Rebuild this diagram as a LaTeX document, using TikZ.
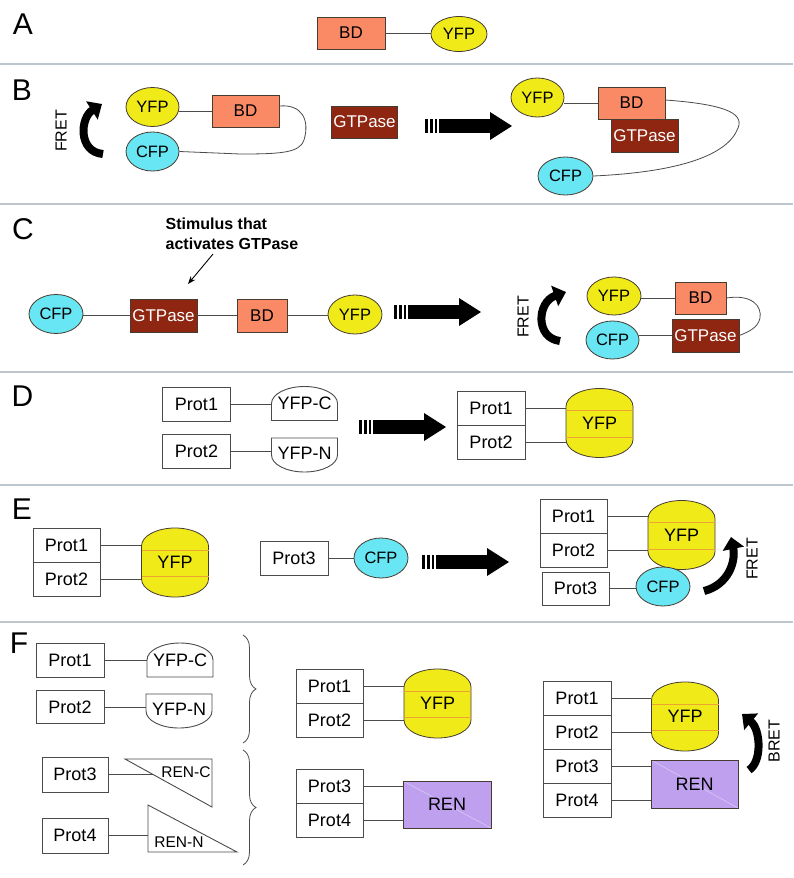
\documentclass[tikz,border=0pt]{standalone}
\usepackage{fontspec}
\setmainfont{Liberation Sans}
\usetikzlibrary{shapes.geometric,arrows.meta,decorations.pathreplacing}
\definecolor{sepcol}{RGB}{188,198,204}
\definecolor{bdcol}{RGB}{250,138,102}
\definecolor{gtpcol}{RGB}{142,38,18}
\definecolor{yfpcol}{RGB}{240,234,24}
\definecolor{cfpcol}{RGB}{104,230,244}
\definecolor{rencol}{RGB}{190,160,238}
\definecolor{rendiagcol}{RGB}{214,200,246}
\definecolor{linecol}{RGB}{75,75,75}
\definecolor{edgecol}{RGB}{70,60,50}
\definecolor{redlinecol}{RGB}{236,165,50}
\tikzset{
 sepline/.style={draw=sepcol,line width=1.4pt},
 panel/.style={font=\fontsize{30}{30}\selectfont, inner sep=0pt},
 link/.style={draw=linecol,line width=0.8pt},
 protbox/.style={rectangle, draw=linecol, fill=white, line width=1pt, minimum width=68pt, minimum height=34pt, inner sep=0pt, font=\fontsize{18}{18}\selectfont},
 bdbox/.style={rectangle, draw=edgecol, fill=bdcol, line width=0.8pt, minimum width=67pt, minimum height=32pt, inner sep=0pt, font=\fontsize{17}{17}\selectfont},
 gtpbox/.style={rectangle, draw=edgecol, fill=gtpcol, text=white, line width=0.8pt, minimum width=67pt, minimum height=33pt, inner sep=0pt, font=\fontsize{17}{17}\selectfont},
 fp/.style={ellipse, draw=edgecol, line width=0.8pt, minimum width=54pt, minimum height=39pt, inner sep=0pt, font=\fontsize{16.5}{16.5}\selectfont},
 yfp/.style={fp, fill=yfpcol},
 cfp/.style={fp, fill=cfpcol},
 shapetext/.style={rectangle, inner sep=0pt, minimum width=66pt, minimum height=34pt, font=\fontsize{18}{18}\selectfont},
 barreltext/.style={rectangle, inner sep=0pt, minimum width=67pt, minimum height=69pt, font=\fontsize{18}{18}\selectfont},
 tritext/.style={inner sep=0pt, font=\fontsize{15.5}{15.5}\selectfont},
 renbox/.style={rectangle, draw=edgecol, fill=rencol, line width=0.8pt, minimum width=88pt, minimum height=47pt, inner sep=0pt, font=\fontsize{18}{18}\selectfont,
   path picture={\draw[rendiagcol, line width=0.6pt] (path picture bounding box.north west) -- (path picture bounding box.south east);}},
 shapeline/.style={draw=linecol, line width=0.9pt},
 fretlbl/.style={rotate=90, font=\fontsize{16}{16}\selectfont, inner sep=0pt},
 curvearrow/.style={line width=8pt, black, -{Triangle[length=12pt,width=21pt]}},
 bracestyle/.style={draw=linecol, line width=0.8pt, decorate, decoration={brace, amplitude=13pt}},
}
\newcommand\bigarrow[2]{%
 \fill[black] (#1,#2-7) rectangle (#1+3.2,#2+7);
 \fill[black] (#1+4.8,#2-7) rectangle (#1+8,#2+7);
 \fill[black] (#1+9.6,#2-7) rectangle (#1+12.4,#2+7);
 \fill[black] (#1+13.5,#2-6.8) rectangle (#1+66,#2+6.8);
 \fill[black] (#1+65,#2-14) -- (#1+87,#2) -- (#1+65,#2+14) -- cycle;
}
\newcommand\domeshape[4]{%
 \filldraw[shapeline, fill=white] (#2-33,#3+17) -- (#2-33,#3) arc[start angle=180,end angle=0,x radius=33pt,y radius=17pt] -- (#2+33,#3+17) -- cycle;
 \node[shapetext] (#1) at (#2,#3) {#4};
}
\newcommand\cupshape[4]{%
 \filldraw[shapeline, fill=white] (#2-33,#3-17) -- (#2+33,#3-17) -- (#2+33,#3) arc[start angle=0,end angle=-180,x radius=33pt,y radius=17pt] -- cycle;
 \node[shapetext] (#1) at (#2,#3-2) {#4};
}
\newcommand\yfpbarrel[3]{%
 \filldraw[draw=edgecol, line width=0.8pt, fill=yfpcol] (#2-33.5,#3-16.5) arc[start angle=180,end angle=0,x radius=33.5pt,y radius=18pt] -- (#2+33.5,#3+16.5) arc[start angle=0,end angle=-180,x radius=33.5pt,y radius=18pt] -- cycle;
 \draw[draw=redlinecol, line width=0.5pt] (#2-33.5,#3-12.5) -- (#2+33.5,#3-12.5) (#2-33.5,#3+14) -- (#2+33.5,#3+14);
 \node[barreltext] (#1) at (#2,#3) {YFP};
}
\begin{document}
\begin{tikzpicture}[x=1pt,y=-1pt]
\useasboundingbox (0,0) rectangle (793,878);
\fill[white] (0,0) rectangle (793,878);

% separators
\foreach \yy in {64,204,372,485,622} \draw[sepline] (0,\yy) -- (793,\yy);

% ---------- A ----------
\node[panel] (labA) at (23,24) {A};
\node[bdbox, minimum width=68pt] (bdA) at (351,33) {BD};
\node[yfp, minimum width=56pt, minimum height=35pt] (yfpA) at (459,34) {YFP};
\draw[link] (bdA.east) -- (bdA.east -| yfpA.west);

% ---------- B ----------
\node[panel] (labB) at (22,90) {B};
\node[fretlbl] (fretB) at (61,131) {FRET};
\coordinate (fbTail) at (103,154);
\coordinate (fbTip) at (102,104);
\draw[curvearrow] (fbTail) .. controls (78,152) and (80,118) .. (fbTip);
\node[yfp, minimum width=53pt] (yfpB1) at (152.5,107) {YFP};
\node[cfp, minimum width=53pt] (cfpB1) at (152.5,151.5) {CFP};
\node[bdbox] (bdB1) at (245.5,111) {BD};
\draw[link] (bdB1.west) -- (bdB1.west -| yfpB1.east);
\draw[link] ([yshift=5pt]bdB1.east) .. controls (302,104) and (310,120) .. (304,140) .. controls (300,153) and (280,154) .. (240,154) -- (cfpB1.east);
\node[gtpbox, minimum width=66pt, minimum height=32pt] (gtpB1) at (364.5,122) {GTPase};
\bigarrow{425}{126}
\node[yfp, minimum width=53pt] (yfpB2) at (537.5,97.5) {YFP};
\node[bdbox] (bdB2) at (631.5,103) {BD};
\draw[link] (bdB2.west) -- (bdB2.west -| yfpB2.east);
\node[gtpbox] (gtpB2) at (644.5,135.5) {GTPase};
\node[cfp, minimum width=55pt, minimum height=38pt] (cfpB2) at (565.5,176) {CFP};
\draw[link] ([yshift=3pt]bdB2.east) .. controls (720,104) and (745,112) .. (738,128) .. controls (728,155) and (680,172) .. (cfpB2.east);

% ---------- C ----------
\node[panel] (labC) at (23,229) {C};
\node[anchor=north west, align=left, inner sep=0pt, font=\fontsize{16}{20}\selectfont\bfseries] (stim) at (165.5,217.5) {Stimulus that\\activates GTPase};
\coordinate (stimA) at (213,254);
\coordinate (stimB) at (188,284);
\draw[black, line width=0.9pt, -{Stealth[length=8pt,width=6pt]}] (stimA) -- (stimB);
\node[cfp] (cfpC) at (56,314) {CFP};
\node[gtpbox] (gtpC) at (163.5,315.5) {GTPase};
\node[bdbox, minimum width=50pt, minimum height=33pt] (bdC) at (262,315.5) {BD};
\node[yfp] (yfpC) at (355,314.5) {YFP};
\draw[link] (gtpC.west -| cfpC.east) -- (gtpC.west);
\draw[link] (gtpC.east) -- (bdC.west);
\draw[link] (bdC.east) -- (bdC.east -| yfpC.west);
\bigarrow{394}{312}
\node[fretlbl] (fretC) at (523,317) {FRET};
\coordinate (fcTail) at (560,341);
\coordinate (fcTip) at (566,292);
\draw[curvearrow] (fcTail) .. controls (535,338) and (537,302) .. (fcTip);
\node[yfp, minimum height=38pt] (yfpC2) at (614,296) {YFP};
\node[cfp, minimum width=53pt, minimum height=38pt] (cfpC2) at (612.5,340) {CFP};
\node[bdbox, minimum width=51pt] (bdC2) at (700.5,298) {BD};
\node[gtpbox] (gtpC2) at (705.5,335.5) {GTPase};
\draw[link] (bdC2.west) -- (bdC2.west -| yfpC2.east);
\draw[link] (gtpC2.west) -- (gtpC2.west -| cfpC2.east);
\draw[link] (bdC2.east) .. controls (752,294) and (762,306) .. (760,318) .. controls (758,328) and (748,332) .. (gtpC2.east);

% ---------- D ----------
\node[panel] (labD) at (22.5,396) {D};
\node[protbox] (p1D) at (196.5,404) {Prot1};
\node[protbox] (p2D) at (196.5,451) {Prot2};
\domeshape{domeD}{304.5}{403.5}{YFP-C}
\cupshape{cupD}{304.5}{455}{YFP-N}
\draw[link] (p1D.east) -- (p1D.east -| domeD.west);
\draw[link] (p2D.east) -- (p2D.east -| cupD.west);
\bigarrow{359}{427}
\node[protbox] (q1D) at (491,408) {Prot1};
\node[protbox] (q2D) at (491,442) {Prot2};
\yfpbarrel{bD}{599.5}{423}
\draw[link] (q1D.east) -- (q1D.east -| bD.west);
\draw[link] (q2D.east) -- (q2D.east -| bD.west);

% ---------- E ----------
\node[panel] (labE) at (22,509) {E};
\node[protbox, minimum width=67pt] (p1E) at (66.5,545) {Prot1};
\node[protbox, minimum width=67pt] (p2E) at (66.5,579) {Prot2};
\yfpbarrel{bE}{175}{562.5}
\draw[link] (p1E.east) -- (p1E.east -| bE.west);
\draw[link] (p2E.east) -- (p2E.east -| bE.west);
\node[protbox] (p3E) at (294,558) {Prot3};
\node[cfp, minimum height=40pt] (cfpE) at (381,558) {CFP};
\draw[link] (p3E.east) -- (cfpE.west);
\bigarrow{422}{562}
\node[protbox, minimum width=67pt] (q1E) at (573.5,516) {Prot1};
\node[protbox, minimum width=67pt] (q2E) at (573.5,550) {Prot2};
\node[protbox, minimum width=67pt, minimum height=33pt] (q3E) at (575.5,588.5) {Prot3};
\yfpbarrel{bE2}{681.5}{535}
\draw[link] (q1E.east) -- (q1E.east -| bE2.west);
\draw[link] (q2E.east) -- (q2E.east -| bE2.west);
\node[cfp] (cfpE2) at (663,586.5) {CFP};
\draw[link] (q3E.east) -- (q3E.east -| cfpE2.west);
\coordinate (feTail) at (704,591);
\coordinate (feTip) at (731,537);
\draw[curvearrow] (feTail) .. controls (728,585) and (736,562) .. (feTip);
\node[fretlbl] (fretE) at (752,559) {FRET};

% ---------- F ----------
\node[panel] (labF) at (19,643) {F};
\node[protbox] (p1F) at (70,660) {Prot1};
\domeshape{domeF}{180}{660}{YFP-C}
\draw[link] (p1F.east) -- (p1F.east -| domeF.west);
\node[protbox, minimum height=33pt] (p2F) at (70,707) {Prot2};
\cupshape{cupF}{179}{711}{YFP-N}
\draw[link] (p2F.east) -- (p2F.east -| cupF.west);
\node[protbox, minimum width=66pt, minimum height=35pt] (p3F) at (75,774.5) {Prot3};
\filldraw[shapeline, fill=white] (125,759) -- (212,759) -- (212,807) -- cycle;
\node[tritext] (renC) at (186,772) {REN-C};
\coordinate (renCjoin) at (153,775);
\draw[link] (p3F.east) -- (p3F.east -| renCjoin);
\node[protbox, minimum width=66pt, minimum height=35pt] (p4F) at (75,835.5) {Prot4};
\filldraw[shapeline, fill=white] (148,805) -- (148,852) -- (237,852) -- cycle;
\node[tritext] (renN) at (179,842) {REN-N};
\coordinate (renNjoin) at (148,836);
\draw[link] (p4F.east) -- (p4F.east -| renNjoin);
\coordinate (br1a) at (243,635);
\coordinate (br1b) at (243,743);
\coordinate (br2a) at (243,750);
\coordinate (br2b) at (243,865);
\draw[bracestyle] (br1a) -- (br1b);
\draw[bracestyle] (br2a) -- (br2b);

\node[protbox, minimum width=67pt] (r1F) at (329.5,686) {Prot1};
\node[protbox, minimum width=67pt] (r2F) at (329.5,720) {Prot2};
\yfpbarrel{bF1}{437.5}{703.5}
\draw[link] (r1F.east) -- (r1F.east -| bF1.west);
\draw[link] (r2F.east) -- (r2F.east -| bF1.west);
\node[protbox, minimum width=67pt] (r3F) at (329.5,786) {Prot3};
\node[protbox, minimum width=67pt] (r4F) at (329.5,820.5) {Prot4};
\node[renbox] (renF1) at (447,804.5) {REN};
\draw[link] (r3F.east) -- (r3F.east -| renF1.west);
\draw[link] (r4F.east) -- (r4F.east -| renF1.west);

\node[protbox] (s1F) at (577,698) {Prot1};
\node[protbox] (s2F) at (577,732) {Prot2};
\node[protbox] (s3F) at (577,766) {Prot3};
\node[protbox] (s4F) at (577,800.5) {Prot4};
\yfpbarrel{bF2}{685}{716.5}
\node[renbox, minimum width=87pt, minimum height=48pt] (renF2) at (694.5,784) {REN};
\draw[link] (s1F.east) -- (s1F.east -| bF2.west);
\draw[link] (s2F.east) -- (s2F.east -| bF2.west);
\draw[link] (s3F.east) -- (s3F.east -| renF2.west);
\draw[link] (s4F.east) -- (s4F.east -| renF2.west);
\coordinate (fbrTail) at (749,770);
\coordinate (fbrTip) at (742,714);
\draw[curvearrow] (fbrTail) .. controls (762,762) and (761,730) .. (fbrTip);
\node[fretlbl] (bretF) at (774,741) {BRET};
\end{tikzpicture}
\end{document}
